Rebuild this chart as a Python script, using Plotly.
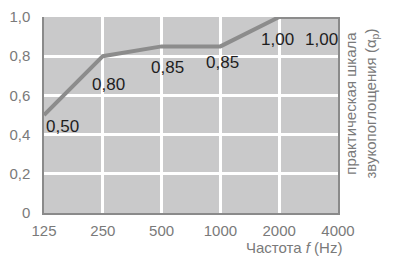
import plotly.graph_objects as go

frequencies = ["125", "250", "500", "1000", "2000", "4000"]
alpha_p = [0.50, 0.80, 0.85, 0.85, 1.00, 1.00]
value_labels = ["0,50", "0,80", "0,85", "0,85", "1,00", "1,00"]
y_ticks = [0, 0.2, 0.4, 0.6, 0.8, 1.0]
y_tick_labels = ["0", "0,2", "0,4", "0,6", "0,8", "1,0"]

# label offsets in pixels (xshift, yshift) relative to each point
label_offsets = [(18, -11), (6, -28), (6, -21), (2, -16), (-2, -22), (-17, -22)]

fig = go.Figure()
fig.add_trace(go.Scatter(
    x=frequencies, y=alpha_p, mode="lines",
    line=dict(color="#8c8c8c", width=4),
    hoverinfo="skip", cliponaxis=False,
))

annotations = []
for i, (v, t, (dx, dy)) in enumerate(zip(alpha_p, value_labels, label_offsets)):
    annotations.append(dict(
        x=i, y=v, xref="x", yref="y", text=t, showarrow=False,
        xshift=dx, yshift=dy, xanchor="center", yanchor="middle",
        font=dict(family="Liberation Sans", size=17, color="#1e1e1e"),
    ))

annotations.append(dict(
    x=1.0, y=0, xref="paper", yref="paper", text="Частота <i>f</i> (Hz)",
    showarrow=False, xanchor="right", yanchor="middle", xshift=6, yshift=-34,
    font=dict(family="Liberation Sans", size=15, color="#7a7a7a"),
))
annotations.append(dict(
    x=1.08, y=0.556, xref="paper", yref="paper",
    text="практическая шкала<br>звукопоглощения (α<sub>p</sub>)",
    showarrow=False, textangle=-90, xanchor="center", yanchor="middle",
    font=dict(family="Liberation Sans", size=15, color="#7a7a7a"),
))

fig.update_layout(
    width=393, height=264,
    margin=dict(l=44, r=55, t=17, b=51, autoexpand=False),
    paper_bgcolor="white", plot_bgcolor="#c9c9ca",
    showlegend=False,
    annotations=annotations,
    font=dict(family="Liberation Sans", size=15, color="#7a7a7a"),
)
fig.update_xaxes(
    type="category", range=[0, 5], automargin=False,
    showgrid=True, gridcolor="white", gridwidth=2.5,
    showline=True, linecolor="#8a8a8a", linewidth=1.5,
    ticks="", ticklabelstandoff=3, zeroline=False,
    tickfont=dict(size=15, color="#7a7a7a"),
)
fig.update_yaxes(
    range=[0, 1], tickvals=y_ticks, ticktext=y_tick_labels, automargin=False,
    showgrid=True, gridcolor="white", gridwidth=2.5,
    showline=True, mirror=True, linecolor="#8a8a8a", linewidth=1.5,
    ticks="", ticklabelstandoff=9, zeroline=False,
    tickfont=dict(size=15, color="#7a7a7a"),
)

fig.write_html(
    "out.html",
    config={"displayModeBar": False},
    post_script="document.body.style.margin='0';document.body.style.padding='0';",
)
